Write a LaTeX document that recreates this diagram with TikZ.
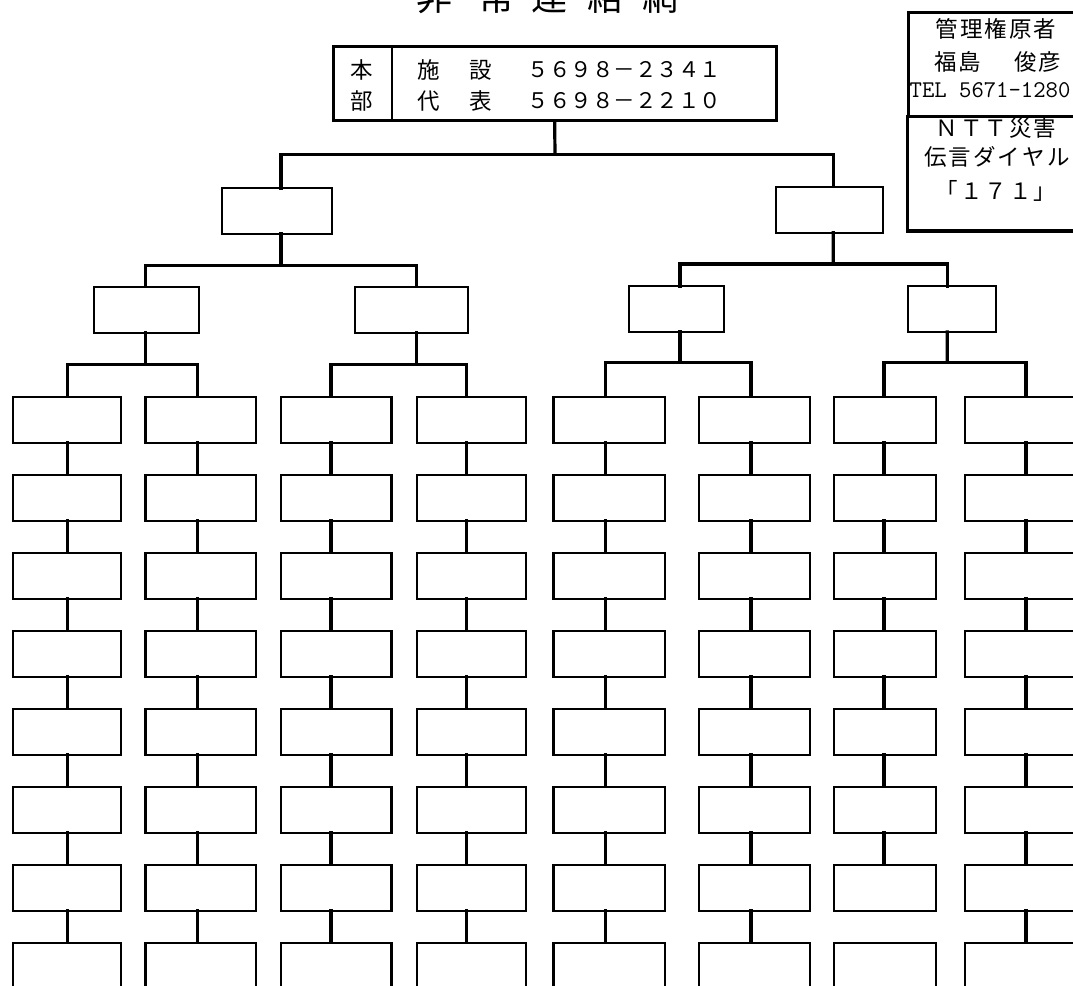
\documentclass[tikz,border=0pt]{standalone}
\usepackage{fontspec}
\newfontfamily\jp{Noto Sans CJK JP}
\newcommand\ks{\kern2pt}
\tikzset{
  cell/.style={draw, line width=2.1pt, minimum width=#1, minimum height=46pt, inner sep=0pt, outer sep=0pt},
  heavy/.style={draw, line width=3pt, inner sep=0pt, outer sep=0pt},
  conn/.style={line width=3.2pt, line cap=rect},
  hqtxt/.style={inner sep=0pt, font=\jp\fontsize{21.5}{21.5}\selectfont},
  hqbig/.style={inner sep=0pt, font=\jp\fontsize{22.5}{22.5}\selectfont},
  infotxt/.style={inner sep=0pt, font=\jp\fontsize{22.5}{22.5}\selectfont},
  titletxt/.style={inner sep=0pt, anchor=base, font=\jp\fontsize{36}{36}\selectfont},
}
\begin{document}
\begin{tikzpicture}[x=1pt,y=-1pt]
\useasboundingbox (0,0) rectangle (1073,985);
\clip (0,0) rectangle (1073,985);
\fill[white] (0,0) rectangle (1073,985);

% title (cut off at the top edge, as in the reference)
\node[titletxt] (t1) at (434,10) {非};
\node[titletxt] (t2) at (496,10) {常};
\node[titletxt] (t3) at (549,10) {連};
\node[titletxt] (t4) at (605,10) {絡};
\node[titletxt] (t5) at (660,10) {網};

% head office box
\node[heavy, minimum width=442.7pt, minimum height=74.7pt] (hq) at (554.65,83.35) {};
\draw[line width=2.4pt] (391.7,46) -- (391.7,120.7);
\node[hqbig] (hq1) at (361.7,70) {本};
\node[hqbig] (hq2) at (361.7,101) {部};
\node[hqbig] (a1) at (429,70) {施};
\node[hqbig] (a2) at (481,70) {設};
\node[hqtxt] (a3) at (624.5,70) {５６９８－２３４１};
\node[hqbig] (b1) at (429,101) {代};
\node[hqbig] (b2) at (481,101) {表};
\node[hqtxt] (b3) at (624.5,101) {５６９８－２２１０};

% info box
\node[heavy, minimum width=181.7pt, minimum height=103.3pt] (infoA) at (999.15,64.35) {};
\node[draw, line width=2.2pt, minimum width=181.7pt, minimum height=114pt, inner sep=0pt] (infoB) at (999.15,173) {};
\draw[line width=3pt] (infoB.north west) -- (infoB.south west) -- (infoB.south east);
\node[infotxt] (i1) at (996,29) {管\ks{}理\ks{}権\ks{}原\ks{}者};
\node[infotxt] (i2a) at (958,61.5) {福\ks{}島};
\node[infotxt] (i2b) at (1038,61.5) {俊\ks{}彦};
\node[inner sep=0pt, anchor=west, font=\ttfamily\fontsize{24}{24}\selectfont] (i3) at (909.5,90) {TEL 5671-1280};
\node[infotxt] (i4) at (996,127.5) {Ｎ\ks{}Ｔ\ks{}Ｔ\ks{}災\ks{}害};
\node[infotxt] (i5) at (997,157) {伝\ks{}言\ks{}ダ\ks{}イ\ks{}ヤ\ks{}ル};
\node[infotxt] (i6) at (996,191) {「\ks{}１\ks{}７\ks{}１\ks{}」};

% level 1
\node[cell=110] (L1a) at (277.3,211) {};
\node[cell=107.3] (L1b) at (829.65,209.7) {};
% level 2
\node[cell=105] (L2a) at (146.5,309.85) {};
\node[cell=113] (L2b) at (411.8,309.85) {};
\node[cell=95] (L2c) at (676.8,309) {};
\node[cell=88.3] (L2d) at (952.15,309) {};

% columns
\foreach \c/\cx/\w/\s in {1/67/108/0.7, 2/200.75/110.5/-3.45, 3/336.25/110.5/-5.25, 4/471.5/109/-5,
                         5/609.25/111.5/-3.75, 6/754.5/111/-3.5, 7/885/102/-1, 8/1027.5/125/-1.5} {
  \foreach \r in {1,...,8} {
    \node[cell=\w] (b\r-\c) at (\cx,{419.7+78*(\r-1)}) {};
  }
  \foreach \r/\n in {1/2,2/3,3/4,4/5,5/6,6/7} {
    \draw[conn] ([xshift=\s]b\r-\c.south) -- ([xshift=\s]b\n-\c.north);
  }
}
\foreach \c/\s in {1/0.7, 2/-3.45, 3/-5.25, 4/-5, 5/-3.75, 6/-3.5, 8/-1.5} {
  \draw[conn] ([xshift=\s]b7-\c.south) -- ([xshift=\s]b8-\c.north);
}

% bus junctions
\coordinate (bus1) at (555,154.3);
\coordinate (busL) at (281,265.7);
\coordinate (busR) at (833.3,264);
\coordinate (busA) at (145.7,364.3);
\coordinate (busB) at (416.7,364.3);
\coordinate (busC) at (680,362.3);
\coordinate (busD) at (947.3,362.3);

\draw[conn] (hq.south) -- (bus1);
\draw[conn] ([xshift=3.7]L1a.north) |- (bus1) -| ([xshift=3.6]L1b.north);

\draw[conn] ([xshift=3.7]L1a.south) -- (busL);
\draw[conn] ([xshift=-0.8]L2a.north) |- (busL) -| ([xshift=4.9]L2b.north);
\draw[conn] ([xshift=3.6]L1b.south) -- (busR);
\draw[conn] ([xshift=3.2]L2c.north) |- (busR) -| ([xshift=-4.85]L2d.north);

\draw[conn] ([xshift=-0.8]L2a.south) -- (busA);
\draw[conn] ([xshift=0.7]b1-1.north) |- (busA) -| ([xshift=-3.45]b1-2.north);
\draw[conn] ([xshift=4.9]L2b.south) -- (busB);
\draw[conn] ([xshift=-5.25]b1-3.north) |- (busB) -| ([xshift=-5]b1-4.north);
\draw[conn] ([xshift=3.2]L2c.south) -- (busC);
\draw[conn] ([xshift=-3.75]b1-5.north) |- (busC) -| ([xshift=-3.5]b1-6.north);
\draw[conn] ([xshift=-4.85]L2d.south) -- (busD);
\draw[conn] ([xshift=-1]b1-7.north) |- (busD) -| ([xshift=-1.5]b1-8.north);
\end{tikzpicture}
\end{document}
